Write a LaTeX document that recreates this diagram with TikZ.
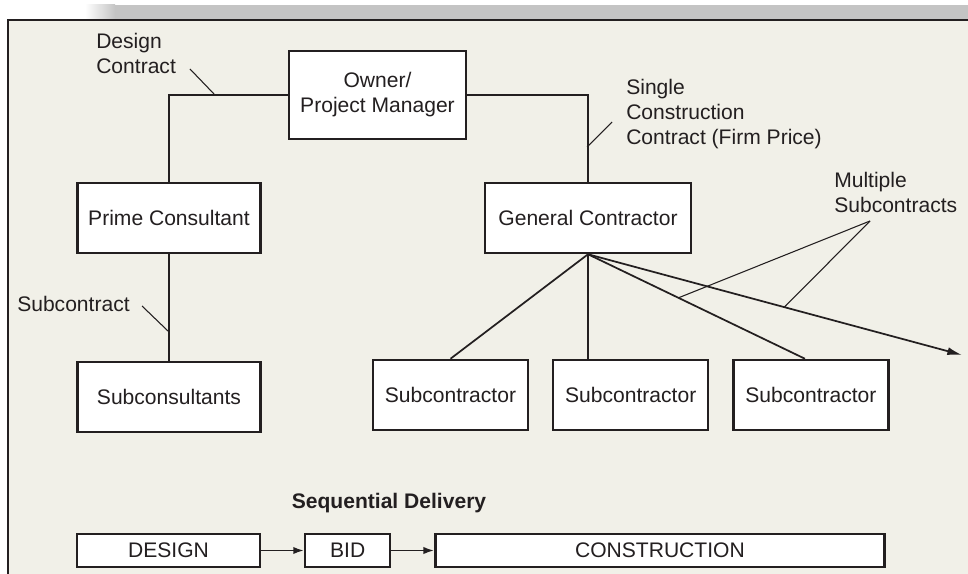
\documentclass[tikz,border=0pt]{standalone}
\usepackage{fontspec}
\setmainfont{Liberation Sans}
\usepackage{tikz}
\usetikzlibrary{positioning, calc, arrows.meta}

\definecolor{paper}{RGB}{241,240,232}
\definecolor{barGray}{RGB}{196,196,196}
\definecolor{ink}{RGB}{35,31,32}

\begin{document}
\begin{tikzpicture}[x=0.75pt, y=-0.75pt,
    every node/.style={font=\fontsize{15.8pt}{18.8pt}\selectfont, text=ink},
    box/.style={rectangle, draw=ink, fill=white, line width=1.9pt, inner sep=0pt, align=center},
    stage/.style={box, minimum height=24.75pt},
    link/.style={draw=ink, line width=1.3pt},
    flow/.style={link, -{Latex[length=8pt, width=5.5pt]}},
    tick/.style={draw=ink, line width=0.8pt},
    label/.style={inner sep=0pt, align=left, anchor=north west}]
        \useasboundingbox (0,0) rectangle (968,574);
        % page background and frame
        \fill[paper] (8,20) rectangle (968,574);
        \shade[left color=white, right color=barGray] (85,5) rectangle (115,19);
        \fill[barGray] (114.5,5) rectangle (968,19);
        \draw[ink, line width=1.5pt] (8,574) -- (8,20) -- (968,20);

        % organisation
        \node[box, minimum width=132.75pt, minimum height=66pt] (owner) at (377.5, 95) {Owner/\\Project Manager};
        \node[box, minimum width=137.25pt, minimum height=52.5pt] (prime) at (169, 218) {Prime Consultant};
        \node[box, minimum width=137.25pt, minimum height=52.5pt] (subcons) [below = 80pt of prime] {Subconsultants};
        \node[box, minimum width=154.5pt, minimum height=52.5pt] (gc) at (588, 218) {General Contractor};
        \node[box, minimum width=116.25pt, minimum height=52.5pt] (subOne) at (450.5, 395) {Subcontractor};
        \node[box, minimum width=116.25pt, minimum height=52.5pt] (subTwo) [right = 17pt of subOne] {Subcontractor};
        \node[box, minimum width=116.25pt, minimum height=52.5pt] (subThree) [right = 17pt of subTwo] {Subcontractor};
        \coordinate (multiEnd) at (962, 355);
        \coordinate (subThreeTop) at ([xshift=-4.5pt]subThree.north);

        \draw[link] (owner.west) -| (prime.north);
        \draw[link] (owner.east) -| (gc.north);
        \draw[link] (prime) -- (subcons);
        \draw[link] (gc.south) -- (subOne.north);
        \draw[link] (gc.south) -- (gc.south |- subTwo.north);
        \draw[link] (gc.south) -- (subThreeTop);
        \draw[link, -{Latex[length=11pt, width=6pt]}] (gc.south) -- (multiEnd);

        % contract labels
        \node[label] (dcLabel) at (96, 33) {Design\\Contract};
        \node[label] (scLabel) at (626, 79) {Single\\Construction\\Contract (Firm Price)};
        \node[label] (subLabel) at (17, 296) {Subcontract};
        \node[label] (msLabel) at (834, 172) {Multiple\\Subcontracts};

        \coordinate (dcTick) at (190, 69);
        \coordinate (dcFoot) at (214, 94);
        \coordinate (scTick) at (612, 122);
        \coordinate (scFoot) at (587, 147);
        \coordinate (subTick) at (142, 306);
        \coordinate (subFoot) at (168, 331);
        \coordinate (msTick) at (870, 221);
        \draw[tick] (dcTick) -- (dcFoot);
        \draw[tick] (scTick) -- (scFoot);
        \draw[tick] (subTick) -- (subFoot);
        \draw[tick] (msTick) -- ($(gc.south)!0.417!(subThreeTop)$);
        \draw[tick] (msTick) -- ($(gc.south)!0.525!(multiEnd)$);

        % delivery sequence
        \node[inner sep=0pt, anchor=north, font=\fontsize{15.8pt}{18.8pt}\selectfont\bfseries] (seqTitle) at (389, 493) {Sequential Delivery};
        \node[stage, minimum width=137.25pt] (design) at (168.5, 550.5) {DESIGN};
        \node[stage, minimum width=63.75pt] (bid) [right = 32pt of design] {BID};
        \node[stage, minimum width=336.75pt] (construction) [right = 32pt of bid] {CONSTRUCTION};

        \draw[flow] (design) -- (bid);
        \draw[flow] (bid) -- (construction);
      \end{tikzpicture}
\end{document}
